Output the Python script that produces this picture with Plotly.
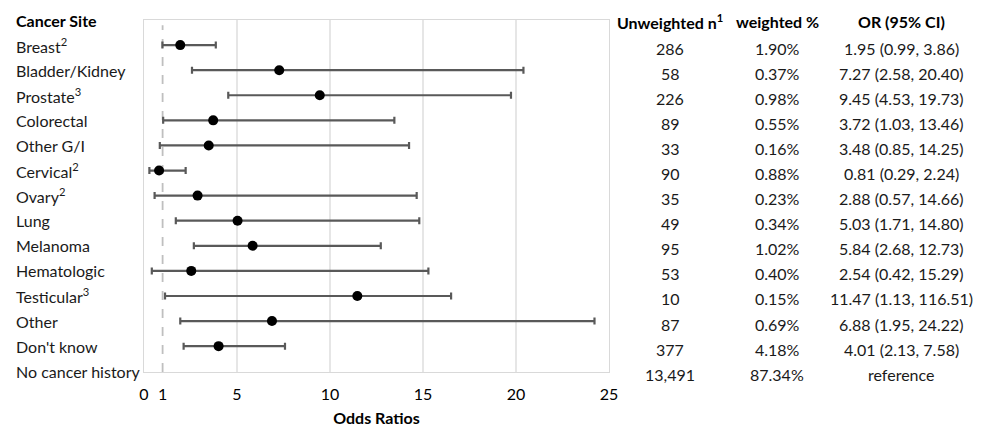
import plotly.graph_objects as go

# ---------------- data ----------------
sites = ["Breast<sup>2</sup>", "Bladder/Kidney", "Prostate<sup>3</sup>", "Colorectal",
         "Other G/I", "Cervical<sup>2</sup>", "Ovary<sup>2</sup>", "Lung", "Melanoma",
         "Hematologic", "Testicular<sup>3</sup>", "Other", "Don't know", "No cancer history"]
odds_ratio = [1.95, 7.27, 9.45, 3.72, 3.48, 0.81, 2.88, 5.03, 5.84, 2.54, 11.47, 6.88, 4.01, None]
ci_lower = [0.99, 2.58, 4.53, 1.03, 0.85, 0.29, 0.57, 1.71, 2.68, 0.42, 1.13, 1.95, 2.13, None]
# upper limits as drawn in the chart (Testicular bar is drawn to 16.51)
ci_upper = [3.86, 20.40, 19.73, 13.46, 14.25, 2.24, 14.66, 14.80, 12.73, 15.29, 16.51, 24.22, 7.58, None]

n_text = ["286", "58", "226", "89", "33", "90", "35", "49", "95", "53", "10", "87", "377", "13,491"]
pct_text = ["1.90%", "0.37%", "0.98%", "0.55%", "0.16%", "0.88%", "0.23%", "0.34%", "1.02%",
            "0.40%", "0.15%", "0.69%", "4.18%", "87.34%"]
or_text = ["1.95 (0.99, 3.86)", "7.27 (2.58, 20.40)", "9.45 (4.53, 19.73)", "3.72 (1.03, 13.46)",
           "3.48 (0.85, 14.25)", "0.81 (0.29, 2.24)", "2.88 (0.57, 14.66)", "5.03 (1.71, 14.80)",
           "5.84 (2.68, 12.73)", "2.54 (0.42, 15.29)", "11.47 (1.13, 116.51)", "6.88 (1.95, 24.22)",
           "4.01 (2.13, 7.58)", "reference"]

headers = ["Cancer Site", "Unweighted n<sup>1</sup>", "weighted %", "OR (95% CI)"]
x_ticks = [0, 1, 5, 10, 15, 20, 25]
grid_vals = [5, 10, 15, 20]
reference_or = 1
x_title = "Odds Ratios"

# ---------------- layout geometry ----------------
OFF = 8  # page body margin
W, H = 984 - OFF, 428 - OFF
L, T = 144 - OFF, 20 - OFF
plot_right, plot_bottom = 609 - OFF, 372 - OFF
R, B = W - plot_right, H - plot_bottom
plot_w = plot_right - L
FONT = "Lato"
FS = 16

def px_to_paper_x(px):
    return (px - OFF - L) / plot_w

rows = list(range(len(sites)))
plus = [(u - o) if o is not None else None for o, u in zip(odds_ratio, ci_upper)]
minus = [(o - l) if o is not None else None for o, l in zip(odds_ratio, ci_lower)]

fig = go.Figure()
fig.add_trace(go.Scatter(
    x=odds_ratio, y=rows, mode="markers",
    marker=dict(color="black", size=10),
    error_x=dict(type="data", symmetric=False, array=plus, arrayminus=minus,
                 color="#595959", thickness=2.2, width=3.5),
    showlegend=False, hoverinfo="skip",
))

shapes = []
for g in grid_vals:
    shapes.append(dict(type="line", xref="x", yref="paper", x0=g, x1=g, y0=0, y1=1,
                       line=dict(color="#d9d9d9", width=1.3), layer="below"))
shapes.append(dict(type="line", xref="x", yref="paper", x0=reference_or, x1=reference_or,
                   y0=0, y1=0.985, line=dict(color="#bfbfbf", width=1.8, dash="dash"),
                   layer="below"))

annotations = []
annotations.append(dict(text="<b>" + headers[0] + "</b>", xref="paper", yref="y",
                        x=px_to_paper_x(14), y=-1, xanchor="left", yanchor="middle",
                        showarrow=False, yshift=0, font=dict(size=FS, color="black", family=FONT)))
for r, s in zip(rows, sites):
    annotations.append(dict(text=s, xref="paper", yref="y", x=px_to_paper_x(14), y=r,
                            xanchor="left", yanchor="middle", showarrow=False,
                            font=dict(size=FS, color="#1a1a1a", family=FONT)))

col_x = [670, 777, 901]
for cx, h in zip(col_x, headers[1:]):
    annotations.append(dict(text="<b>" + h + "</b>", xref="paper", yref="y",
                            x=px_to_paper_x(cx), y=-1, xanchor="center", yanchor="middle",
                            showarrow=False, yshift=-1, font=dict(size=FS, color="black", family=FONT)))
for col, cx in zip([n_text, pct_text, or_text], col_x):
    for r, t in zip(rows, col):
        annotations.append(dict(text=t, xref="paper", yref="y", x=px_to_paper_x(cx), y=r,
                                xanchor="center", yanchor="middle", showarrow=False, yshift=-3,
                                font=dict(size=FS, color="#1a1a1a", family=FONT)))

fig.update_layout(
    width=W, height=H,
    margin=dict(l=L, r=R, t=T, b=B, pad=0, autoexpand=False),
    plot_bgcolor="white", paper_bgcolor="white",
    font=dict(family=FONT, size=FS, color="black"),
    shapes=shapes, annotations=annotations,
    xaxis=dict(range=[0, 25], tickvals=x_ticks, ticktext=[str(v) for v in x_ticks],
               showgrid=False, zeroline=False, showline=True, mirror=True, automargin=False,
               linecolor="#d9d9d9", linewidth=1.3, ticks="", ticklabelstandoff=8,
               tickfont=dict(size=FS, color="black", family=FONT),
               title=dict(text="<b>" + x_title + "</b>", standoff=10,
                          font=dict(size=FS, color="black", family=FONT))),
    yaxis=dict(range=[13.03, -1], showticklabels=False, showgrid=False, zeroline=False,
               automargin=False,
               showline=True, mirror=True, linecolor="#d9d9d9", linewidth=1.3, ticks=""),
)

fig.write_html("out.html")
